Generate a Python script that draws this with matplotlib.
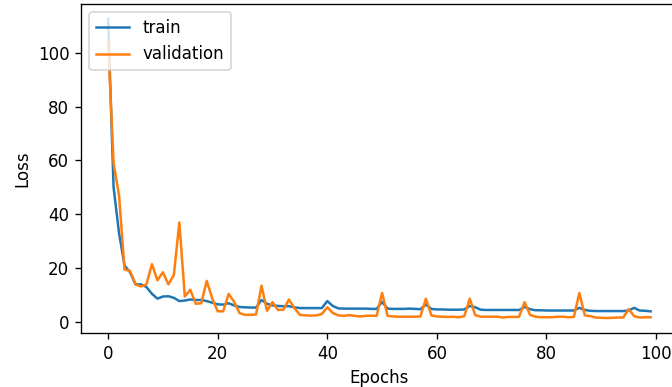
import matplotlib
matplotlib.use('Agg')
import matplotlib.pyplot as plt
import numpy as np

# loss per epoch
train_loss = [112.5, 50, 33, 21, 18.5, 14, 14, 13, 10.5, 8.7,
              9.5, 9.6, 9, 7.8, 8, 8.4, 8.2, 8.2, 7.8, 7.2,
              6.6, 6.5, 7, 6.2, 5.6, 5.5, 5.4, 5.4, 8.2, 6.8,
              6.2, 6.0, 5.9, 5.9, 5.5, 5.2, 5.2, 5.2, 5.2, 5.2,
              7.8, 6.0, 5.1, 5.0, 5.0, 5.0, 5.0, 5.0, 4.9, 4.9,
              7.5, 5.0, 4.9, 4.9, 4.9, 5.0, 4.9, 4.8, 6.5, 4.9,
              4.7, 4.7, 4.6, 4.6, 4.6, 4.7, 6.0, 5.5, 4.6, 4.5,
              4.5, 4.5, 4.5, 4.5, 4.5, 4.5, 5.6, 4.8, 4.4, 4.4,
              4.3, 4.3, 4.3, 4.3, 4.3, 4.3, 5.3, 4.5, 4.2, 4.1,
              4.1, 4.1, 4.1, 4.1, 4.1, 4.3, 5.3, 4.3, 4.2, 4.0]
val_loss = [104, 59, 47, 19.5, 19, 14, 13.2, 14, 21.5, 15.5,
            18.5, 14, 17.5, 37, 9.5, 12, 6.8, 7, 15.3, 8.8,
            4, 4, 10.5, 7.5, 3.3, 2.7, 2.7, 2.8, 13.5, 4.2,
            7.4, 4.5, 4.6, 8.4, 5.2, 2.7, 2.5, 2.4, 2.5, 3.0,
            5.5, 3.4, 2.5, 2.3, 2.6, 2.3, 2.1, 2.3, 2.4, 2.3,
            10.8, 2.3, 2.1, 2.0, 2.0, 2.0, 2.0, 2.1, 8.7, 2.5,
            2.1, 2.0, 1.9, 2.0, 1.8, 2.2, 8.7, 2.6, 2.0, 2.0,
            2.0, 2.0, 1.7, 1.9, 1.9, 2.0, 7.4, 2.7, 2.0, 1.8,
            1.8, 1.8, 2.0, 2.0, 1.8, 1.9, 10.8, 2.5, 2.2, 1.7,
            1.6, 1.5, 1.6, 1.7, 1.7, 4.8, 2.2, 1.7, 1.8, 1.8]
epochs = np.arange(len(train_loss))

dpi = 120
fig = plt.figure(figsize=(672 / dpi, 387 / dpi), dpi=dpi)
ax = fig.add_axes([0.1205, 0.1395, 0.888, 0.850])
ax.plot(epochs, train_loss, label='train')
ax.plot(epochs, val_loss, label='validation')
ax.set_xlabel('Epochs')
ax.set_ylabel('Loss')
ax.legend(loc='upper left')
fig.savefig('out.png', dpi=dpi)
